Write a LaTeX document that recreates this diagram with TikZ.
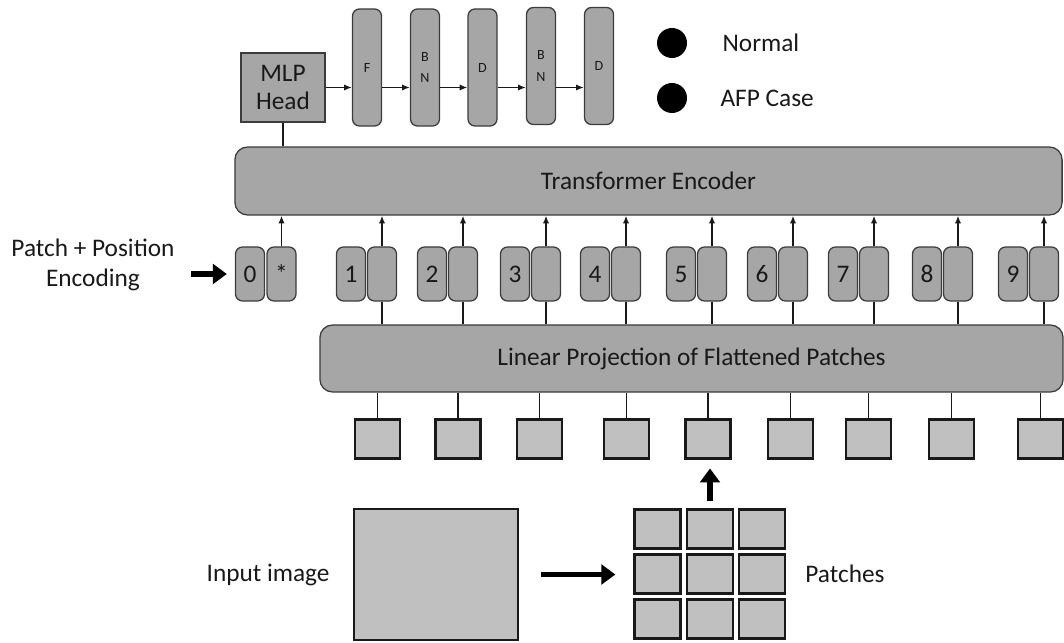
\documentclass[tikz,border=0pt]{standalone}
\usepackage{fontspec}
\setmainfont{Carlito}
\usetikzlibrary{arrows.meta,positioning}
\definecolor{boxgray}{RGB}{166,166,166}
\definecolor{edgegray}{RGB}{60,60,60}
\definecolor{patchgray}{RGB}{192,192,192}
\begin{document}
\begin{tikzpicture}[
    x=0.025cm, y=-0.025cm,
    every node/.style={font=\fontsize{18}{21}\selectfont, text=black!90},
    blk/.style={draw=edgegray, fill=boxgray, line width=0.9pt, rounded corners=5pt, inner sep=0pt},
    wide/.style={blk, rounded corners=9pt, minimum height=1.7cm},
    bar/.style={blk, minimum width=0.725cm, minimum height=2.925cm, align=center, font=\fontsize{10}{15.6}\selectfont},
    tok/.style={blk, minimum width=0.725cm, minimum height=1.35cm},
    patch/.style={draw=black!90, fill=patchgray, line width=1.6pt, inner sep=0pt},
    link/.style={line width=1.1pt, draw=black!90},
    feed/.style={link, -{Latex[length=5.5pt, width=4.5pt]}},
    fat/.style={line width=4pt, -{Triangle[length=10pt, width=14pt]}},
    lbl/.style={inner sep=0pt}
]
    \useasboundingbox (0,0) rectangle (1064,643);

    \node[blk, rounded corners=0pt, minimum width=2.1cm, minimum height=1.725cm, align=center, font=\fontsize{18}{20}\selectfont] (mlp) at (283,87.5) {MLP\\Head};
    \node[bar] (f) at (367,67.5) {F};
    \node[bar] (bn1) at (425,67.5) {B\\N};
    \node[bar] (d1) at (482.5,67.5) {D};
    \node[bar] (bn2) at (541,66) {B\\N};
    \node[bar] (d2) at (599,66) {D};

    \draw[feed] (mlp.east) -- (f.west |- mlp.east);
    \draw[feed] (f.east |- mlp.east) -- (bn1.west |- mlp.east);
    \draw[feed] (bn1.east |- mlp.east) -- (d1.west |- mlp.east);
    \draw[feed] (d1.east |- mlp.east) -- (bn2.west |- mlp.east);
    \draw[feed] (bn2.east |- mlp.east) -- (d2.west |- mlp.east);

    \node[circle, fill=black, minimum size=0.75cm, inner sep=0pt] (dotn) at (672,43) {};
    \node[circle, fill=black, minimum size=0.75cm, inner sep=0pt] (dota) at (672,98) {};
    \node[lbl, right=0.875cm of dotn] (normal) {Normal};
    \node[lbl, right=0.825cm of dota] (afp) {AFP Case};

    \node[wide, minimum width=20.675cm] (enc) at (648.5,181) {Transformer Encoder};
    \node[wide, minimum width=18.575cm, minimum height=1.675cm] (lin) at (691.5,358.5) {Linear Projection of Flattened Patches};
    \draw[link] (mlp.south) -- (mlp.south |- enc.north);

    \node[lbl, align=center, font=\fontsize{18}{21.3}\selectfont] (pe) at (93,265) {Patch + Position\\Encoding};
    \node[tok] (t0) at (250,274) {0};
    \node[tok] (ts) at (281.5,274) {*};
    \draw[fat, shorten <=0.4cm, shorten >=0.2cm] (pe.east |- t0.west) -- (t0.west);
    \draw[feed] (ts.north) -- (ts.north |- enc.south);

    \foreach \i/\bx/\px in {1/382/377.5, 2/463/458, 3/546/539.5, 4/626/626.5, 5/712/708, 6/793/790.5, 7/874/868.5, 8/958/951.5, 9/1044/1040.5} {
        \node[tok] (n\i) at (\bx-31,274) {\i};
        \node[tok] (e\i) at (\bx,274) {};
        \node[patch, minimum width=1.125cm, minimum height=0.975cm] (s\i) at (\px,439) {};
        \draw[feed] (e\i.north) -- (e\i.north |- enc.south);
        \draw[link] (e\i.south) -- (e\i.south |- lin.north);
        \draw[link] (lin.south -| s\i.north) -- (s\i.north);
    }

    \node[patch, minimum width=4.1cm, minimum height=3.275cm] (img) at (436,574.5) {};
    \node[lbl, left=0.575cm of img] (imglbl) {Input image};
    \foreach \r/\y in {1/529, 2/574, 3/619} {
        \foreach \c/\x in {1/657.5, 2/710, 3/762} {
            \node[patch, minimum width=1.15cm, minimum height=0.975cm] (p\r\c) at (\x,\y) {};
        }
    }
    \node[lbl, right=0.475cm of p23] (patlbl) {Patches};
    \draw[fat, shorten <=0.55cm, shorten >=0.45cm] (img.east) -- (img.east -| p21.west);
    \draw[fat, shorten <=0.175cm, shorten >=0.22cm] (p12.north) -- (p12.north |- s5.south);
\end{tikzpicture}
\end{document}
